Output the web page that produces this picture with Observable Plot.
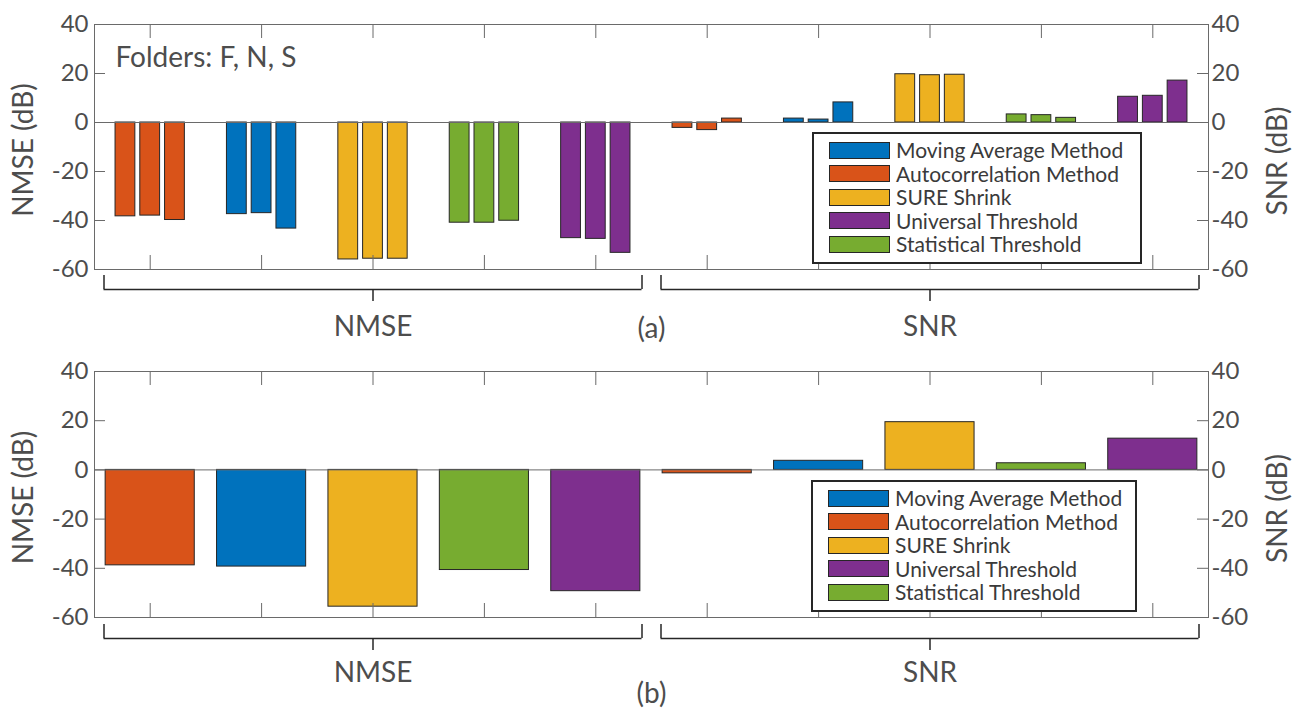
<!DOCTYPE html>
<html>
<head>
<meta charset="utf-8">
<script src="https://cdn.jsdelivr.net/npm/d3@7"></script>
<script src="https://cdn.jsdelivr.net/npm/@observablehq/plot@0.6"></script>
<style>
  html, body { margin: 0; padding: 0; background: #fff; }
  #wrap { position: relative; width: 1298px; height: 711px; font-family: Lato, "Open Sans", sans-serif; }
  .panel { position: absolute; left: 0; }
  .panel svg { display: block; }
  .legend { position: absolute; box-sizing: border-box; border: 2px solid #262626; background: #fff; }
  .legend .sw { position: absolute; box-sizing: border-box; width: 61px; height: 17px; border: 1.5px solid #262626; }
  .legend .lb { position: absolute; font-size: 21px; line-height: 21px; color: #3a3a3a; white-space: nowrap; }
</style>
</head>
<body>
<div id="wrap"></div>
<script>
// ---------- data ----------
const metrics = ["NMSE", "SNR"];
const methods = ["Autocorrelation Method", "Moving Average Method", "SURE Shrink", "Statistical Threshold", "Universal Threshold"];
const methodColors = ["#D95319", "#0072BD", "#EDB120", "#77AC30", "#7E2F8E"];
const legendOrder = ["Moving Average Method", "Autocorrelation Method", "SURE Shrink", "Universal Threshold", "Statistical Threshold"];
const folders = ["F", "N", "S"];
// panel (a): per method, per folder (F, N, S)
const nmseByFolder = [[-38.3, -38.0, -39.8], [-37.4, -37.0, -43.3], [-55.9, -55.6, -55.6], [-40.9, -40.9, -40.1], [-47.2, -47.5, -53.2]];
const snrByFolder  = [[-2.2, -3.1, 1.6], [1.6, 1.2, 8.2], [19.7, 19.3, 19.5], [3.3, 3.0, 1.9], [10.5, 10.9, 17.1]];
// panel (b): all folders
const nmseAll = [-38.8, -39.3, -55.6, -40.7, -49.3];
const snrAll  = [-1.4, 3.7, 19.4, 2.7, 12.7];
const yTicks = [-60, -40, -20, 0, 20, 40];
const yLabels = ["NMSE (dB)", "SNR (dB)"];
const panelLabels = ["(a)", "(b)"];
const folderNote = "Folders: F, N, S";

// ---------- derived ----------
const nM = methods.length;
const xDomain = [0.5, metrics.length * nM + 0.5];
const yDomain = [yTicks[0], yTicks[yTicks.length - 1]];
const xTicks = d3.range(1, metrics.length * nM + 1);
const groupOf = (mi, ki) => mi * nM + ki + 1;

const nF = folders.length;
const groupWidth = Math.min(0.8, nF / (nF + 1.5));
const step = groupWidth / nF;
const barW = 0.8 * step;

const rowsA = [];
[nmseByFolder, snrByFolder].forEach((tbl, mi) => tbl.forEach((vals, ki) => vals.forEach((v, fi) => {
  const c = groupOf(mi, ki) + (fi - (nF - 1) / 2) * step;
  rowsA.push({metric: metrics[mi], method: methods[ki], folder: folders[fi], x1: c - barW / 2, x2: c + barW / 2, value: v});
})));
const rowsB = [];
[nmseAll, snrAll].forEach((vals, mi) => vals.forEach((v, ki) => {
  const c = groupOf(mi, ki);
  rowsB.push({metric: metrics[mi], method: methods[ki], x1: c - 0.4, x2: c + 0.4, value: v});
}));

const grey = "#6a6a6a";
const txt = "#4d4d4d";
const dark = "#262626";

function panel(rows, opts) {
  const marks = [
    Plot.rect(rows, {x1: "x1", x2: "x2", y1: () => 0, y2: "value", fill: "method", stroke: dark, strokeWidth: 1}),
    Plot.ruleY([0], {stroke: grey, strokeWidth: 1}),
    Plot.frame({stroke: grey, strokeWidth: 1}),
    // inward y ticks
    Plot.ruleY(yTicks, {x1: () => xDomain[0], x2: () => xDomain[0], insetRight: -11, stroke: grey}),
    Plot.ruleY(yTicks, {x1: () => xDomain[1], x2: () => xDomain[1], insetLeft: -11, stroke: grey}),
    // inward x ticks
    Plot.ruleX(xTicks, {y1: () => yDomain[1], y2: () => yDomain[1], insetBottom: -14, stroke: grey}),
    Plot.ruleX(xTicks, {y1: () => yDomain[0], y2: () => yDomain[0], insetTop: -14, stroke: grey}),
    // tick labels
    Plot.axisY(yTicks, {anchor: "left", tickSize: 0, tickPadding: 6, tickFormat: d => String(d), label: null, fontSize: 24, fill: txt}),
    Plot.axisY(yTicks, {anchor: "right", tickSize: 0, tickPadding: 3, tickFormat: d => String(d), label: null, fontSize: 24, fill: txt}),
    // axis titles
    Plot.text([yLabels[0]], {frameAnchor: "left", textAnchor: "middle", lineAnchor: "middle", dx: -70, dy: 3, rotate: -90, fontSize: 28, fill: txt}),
    Plot.text([yLabels[1]], {frameAnchor: "right", textAnchor: "middle", lineAnchor: "middle", dx: 70, dy: 14, rotate: -90, fontSize: 28, fill: txt}),
    // brackets under metric groups
    Plot.ruleY(metrics, {y: () => yDomain[0], x1: (d, i) => i * nM + 0.5, x2: (d, i) => i * nM + nM + 0.5, insetLeft: 9.5, insetRight: 9.5, dy: opts.br, stroke: dark, strokeWidth: 1.5}),
    Plot.ruleX(metrics, {x: (d, i) => i * nM + 0.5, y1: () => yDomain[0], y2: () => yDomain[0], dx: 9.5, dy: opts.br, insetTop: -14, stroke: dark, strokeWidth: 1.5}),
    Plot.ruleX(metrics, {x: (d, i) => i * nM + nM + 0.5, y1: () => yDomain[0], y2: () => yDomain[0], dx: -9.5, dy: opts.br, insetTop: -14, stroke: dark, strokeWidth: 1.5}),
    Plot.ruleX(metrics, {x: (d, i) => i * nM + (nM + 1) / 2, y1: () => yDomain[0], y2: () => yDomain[0], dy: opts.br, insetBottom: -12, stroke: dark, strokeWidth: 1.5}),
    Plot.text(metrics, {x: (d, i) => i * nM + (nM + 1) / 2, frameAnchor: "bottom", lineAnchor: "middle", dy: opts.ml, fontSize: 28, fill: txt}),
    Plot.text([opts.label], {x: () => (xDomain[0] + xDomain[1]) / 2, frameAnchor: "bottom", lineAnchor: "middle", dy: opts.pl, fontSize: 28, fill: txt})
  ];
  if (opts.note) marks.push(Plot.text([opts.note], {frameAnchor: "top-left", dx: 21, dy: 34, textAnchor: "start", lineAnchor: "middle", fontSize: 28, fill: txt}));
  return Plot.plot({
    width: 1298, height: opts.height,
    marginLeft: 94, marginRight: 90, marginTop: opts.mt, marginBottom: opts.mb,
    x: {domain: xDomain, axis: null},
    y: {domain: yDomain, axis: null},
    color: {domain: methods, range: methodColors},
    style: {fontFamily: "Lato, 'Open Sans', sans-serif", color: txt, background: "transparent", overflow: "visible"},
    marks
  });
}

function legend(left, top, width, height) {
  const div = document.createElement("div");
  div.className = "legend";
  Object.assign(div.style, {left: left + "px", top: top + "px", width: width + "px", height: height + "px"});
  legendOrder.forEach((m, i) => {
    const cy = 18 + i * 23.6;
    const sw = document.createElement("div");
    sw.className = "sw";
    Object.assign(sw.style, {left: "15px", top: (cy - 2 - 8.5) + "px", background: methodColors[methods.indexOf(m)]});
    const lb = document.createElement("div");
    lb.className = "lb";
    lb.textContent = m;
    Object.assign(lb.style, {left: "82px", top: (cy - 2 - 11) + "px"});
    div.append(sw, lb);
  });
  return div;
}

const wrap = document.getElementById("wrap");
const p1 = document.createElement("div"); p1.className = "panel"; p1.style.top = "0px";
p1.append(panel(rowsA, {height: 355, mt: 24, mb: 86, br: 20, ml: 58, pl: 60, label: panelLabels[0], note: folderNote}));
const p2 = document.createElement("div"); p2.className = "panel"; p2.style.top = "355px";
p2.append(panel(rowsB, {height: 356, mt: 16, mb: 94, br: 21, ml: 56, pl: 77, label: panelLabels[1]}));
wrap.append(p1, p2);
wrap.append(legend(812, 132, 330, 132));
wrap.append(legend(811, 480, 326, 132));
</script>
</body>
</html>
